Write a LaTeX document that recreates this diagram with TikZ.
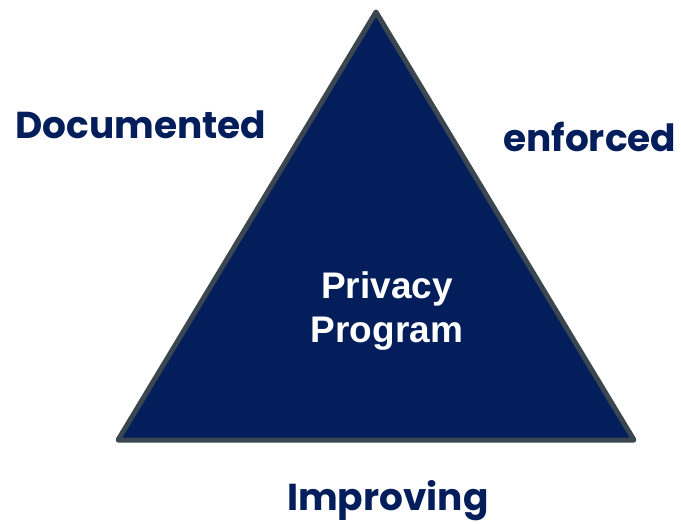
\documentclass[tikz,border=0pt]{standalone}
\usepackage{fontspec}
\setmainfont{Liberation Sans}
\newfontfamily\labelfont{Poppins}
\definecolor{navy}{RGB}{4,30,92}
\definecolor{rim}{RGB}{58,70,80}
\begin{document}
\begin{tikzpicture}[x=1pt,y=-1pt,
  sidelabel/.style={font=\labelfont\bfseries\fontsize{37.5}{42}\selectfont, text=navy, inner sep=0pt, anchor=west},
  centre/.style={font=\bfseries\fontsize{37}{44}\selectfont, text=white, align=center}]
  \useasboundingbox (0,0) rectangle (681,524);
  \coordinate (apex) at (376,12);
  \coordinate (bl) at (118,440);
  \coordinate (br) at (634,440);
  \filldraw[fill=navy, draw=rim, line width=5pt, line join=round] (apex) -- (br) -- (bl) -- cycle;
  \node[centre] (prog) at (387,311) {Privacy\\Program};
  \node[sidelabel] (doc) at (15,125) {Documented};
  \node[sidelabel] (enf) at (503,137) {enforced};
  \node[sidelabel] (imp) at (287,501) {Improving};
\end{tikzpicture}
\end{document}
